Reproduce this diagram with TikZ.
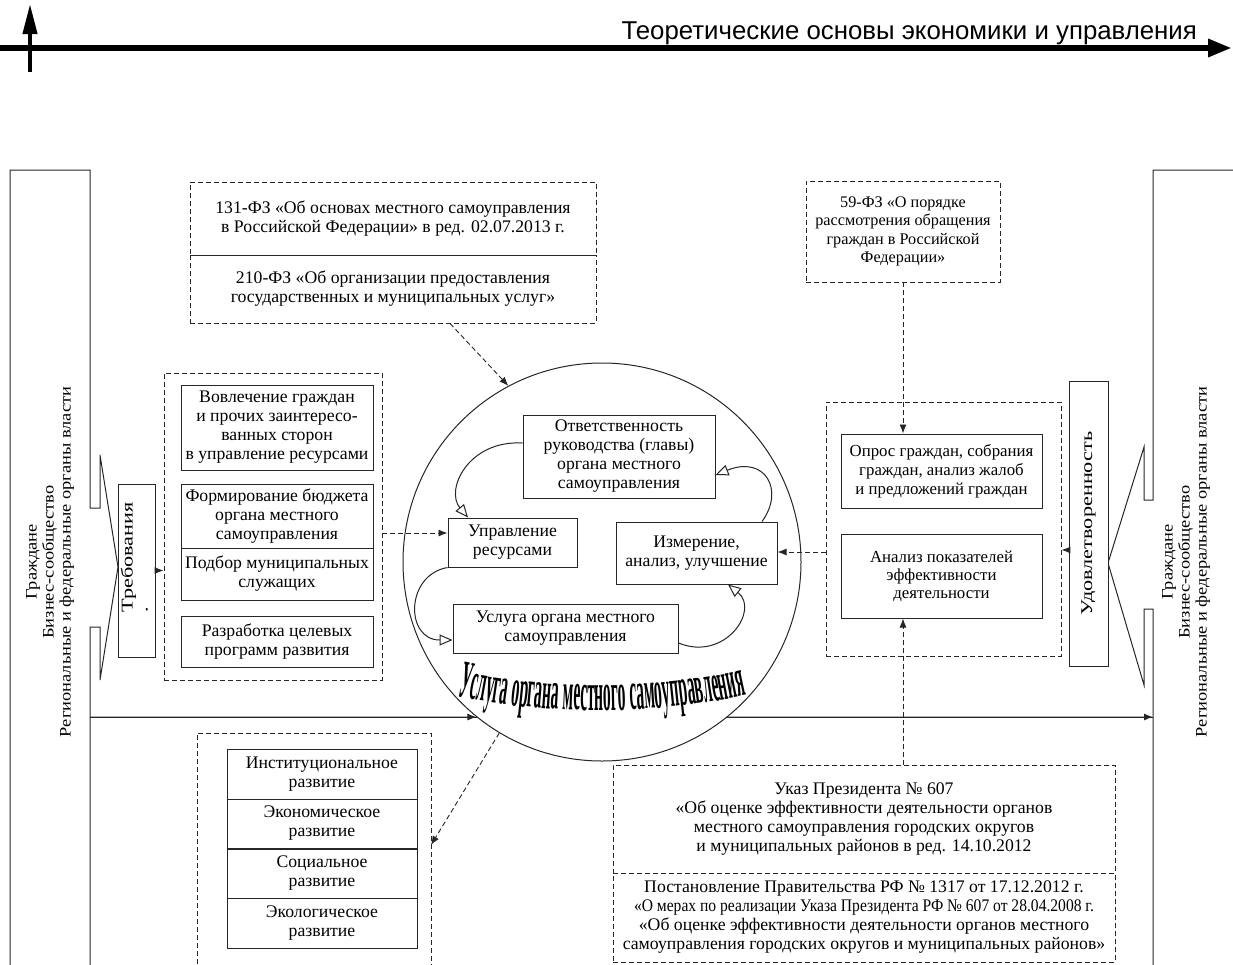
\documentclass[tikz,border=0pt]{standalone}
\usepackage{fontspec}
\usepackage{graphicx}
\setmainfont{Liberation Serif}
\newfontfamily\sidefont[FakeStretch=1.15]{Liberation Serif}
\newfontfamily\tagfont[FakeStretch=1.35]{Liberation Serif}
\newfontfamily\headfont{Liberation Sans}
\newfontfamily\arcfont[FakeStretch=0.29]{Liberation Serif}
\usetikzlibrary{arrows.meta,decorations.text}
\begin{document}
\begin{tikzpicture}[x=1pt,y=-1pt,
  every node/.style={font=\fontsize{17.7}{19}\selectfont, inner sep=0pt},
  box/.style={draw=black!85, line width=1pt, fill=white, align=center},
  dbox/.style={draw=black!85, line width=0.9pt, dash pattern=on 5pt off 3pt, align=center},
  dline/.style={draw=black!85, line width=0.9pt, dash pattern=on 5pt off 3pt},
  sline/.style={draw=black!85, line width=1pt},
  fa/.style={-{Latex[length=9pt,width=7pt]}},
  oa/.style={-{Triangle[length=13pt,width=11pt,fill=white]}},
  sidetxt/.style={rotate=90, align=center, font=\sidefont\fontsize{16}{17}\selectfont},
  smalltxt/.style={font=\fontsize{16.2}{18.5}\selectfont},
]
\useasboundingbox (0,0) rectangle (1233,964);
\clip (0,0) rectangle (1233,964);

% header
\draw[line width=6.5pt, -{Triangle[length=24pt,width=17pt]}] (0,48) -- (1232,48);
\draw[line width=4pt, -{Triangle[length=30pt,width=14pt]}] (30,72) -- (30,4);
\node[anchor=base east, font=\headfont\fontsize{25.8}{28}\selectfont] (hdr) at (1197,39) {Теоретические основы экономики и управления};

% left actor block
\draw[sline] (10,980) -- (10,170) -- (90,170) -- (90,508) -- (100,508) -- (100,455) -- (118,567) -- (100,680) -- (100,627) -- (90,627) -- (90,980);
\node[sidetxt] (ltxt) at (50,562) {Граждане\\Бизнес-сообщество\\Региональные и федеральные органы власти};
% right actor block
\draw[sline] (1240,170) -- (1153,170) -- (1153,500) -- (1144,500) -- (1144,447) -- (1108,563) -- (1144,685) -- (1144,609) -- (1153,609) -- (1153,980);
\node[sidetxt] (rtxt) at (1186,562) {Граждане\\Бизнес-сообщество\\Региональные и федеральные органы власти};

% requirement / satisfaction
\node[box, minimum width=37, minimum height=173] (treb) at (136.5,570.5)
  {\rotatebox{90}{\tagfont\fontsize{16.5}{15}\selectfont\begin{tabular}{@{}l@{}}\hspace*{26pt}Требования\\\hspace*{26pt}.\end{tabular}}};
\node[box, minimum width=39, minimum height=285] (udov) at (1088.5,523.5)
  {\rotatebox{90}{\tagfont\fontsize{16.5}{16}\selectfont Удовлетворенность}};

% left group
\node[dbox, minimum width=218, minimum height=307] (lgrp) at (273,526.5) {};
\node[box, minimum width=192, minimum height=85] (b1) at (277,427.5) {Вовлечение граждан\\и прочих заинтересо-\\ванных сторон\\в управление ресурсами};
\node[box, minimum width=192, minimum height=64] (b2) at (277,516) {Формирование бюджета\\органа местного\\самоуправления};
\node[box, minimum width=192, minimum height=52] (b3) at (277,574) {Подбор муниципальных\\служащих};
\node[box, minimum width=192, minimum height=51] (b4) at (277,641.5) {Разработка целевых\\программ развития};

% laws top-left
\node[dbox, minimum width=406, minimum height=73] (law1) at (393,218.5) {131-ФЗ «Об основах местного самоуправления\\в Российской Федерации» в ред. 02.07.2013 г.};
\node[dbox, minimum width=406, minimum height=68] (law2) at (393,289) {210-ФЗ «Об организации предоставления\\государственных и муниципальных услуг»};

% 59-FZ
\node[dbox, smalltxt, minimum width=194, minimum height=101] (fz59) at (903,231.5) {59-ФЗ «О порядке\\рассмотрения обращения\\граждан в Российской\\Федерации»};

% right group
\node[dbox, minimum width=235, minimum height=254] (rgrp) at (943.5,529) {};
\node[box, font=\fontsize{16.8}{19}\selectfont, minimum width=201, minimum height=74] (r1) at (941.5,471) {Опрос граждан, собрания\\граждан, анализ жалоб\\и предложений граждан};
\node[box, font=\fontsize{16.8}{18}\selectfont, minimum width=201, minimum height=84] (r2) at (941.5,576) {Анализ показателей\\эффективности\\деятельности};

% circle
\draw[sline] (90,717) coordinate (lact) -- (1153,717) coordinate (ract);
\node[circle, draw=black!85, line width=1pt, fill=white, minimum size=398] (circ) at (602,562) {};
\draw[sline,fa] (lact) -- (circ.231);
\draw[sline,fa] (circ.309) -- (ract);

\node[box, minimum width=192, minimum height=83] (otv) at (619,456.5) {Ответственность\\руководства (главы)\\органа местного\\самоуправления};
\node[box, minimum width=129, minimum height=49] (upr) at (512.5,542.5) {Управление\\ресурсами};
\node[box, minimum width=161, minimum height=62] (izm) at (696.5,553) {Измерение,\\анализ, улучшение};
\node[box, minimum width=225, minimum height=49] (usl) at (565.5,628.5) {Услуга органа местного\\самоуправления};

\draw[sline,oa] (otv.west |- 0,443) .. controls (468,440) and (445,490) .. (upr.north -| 468,0);
\draw[sline,oa] (upr.south west) .. controls (405,575) and (405,640) .. (usl.west |- 0,640);
\draw[sline,oa] (usl.east |- 0,643) .. controls (725,662) and (760,610) .. (izm.south -| 728,0);
\draw[sline,oa] (izm.north -| 762,0) .. controls (785,490) and (765,455) .. (otv.east |- 0,475);

\path[decorate, decoration={text along path, text align=center,
  text={|\arcfont\bfseries\fontsize{54}{54}\selectfont|Услуга органа местного самоуправления}}]
  (448,694) .. controls (540,716) and (660,716) .. (756,693);

% development group
\draw[dline] (197,980) -- (197,733) coordinate (dtl) -- (431,733) -- (431,980) coordinate (dbr);
\node[box, minimum width=190, minimum height=50] (dv1) at (322,774) {Институциональное\\развитие};
\node[box, minimum width=190, minimum height=49] (dv2) at (322,823.5) {Экономическое\\развитие};
\node[box, minimum width=190, minimum height=50] (dv3) at (322,873) {Социальное\\развитие};
\node[box, minimum width=190, minimum height=50] (dv4) at (322,923) {Экологическое\\развитие};
\draw[line width=2pt, black!85] (dv2.south west) -- (dv2.south east);

% decrees
\node[dbox, minimum width=502, minimum height=108] (uk1) at (864,819) {Указ Президента № 607\\«Об оценке эффективности деятельности органов\\местного самоуправления городских округов\\и муниципальных районов в ред. 14.10.2012};
\node[dbox, minimum width=502, minimum height=89] (uk2) at (864,917.5) {Постановление Правительства РФ № 1317 от 17.12.2012 г.\\\scalebox{0.88}[1]{«О мерах по реализации Указа Президента РФ № 607 от 28.04.2008 г.}\\«Об оценке эффективности деятельности органов местного\\самоуправления городских округов и муниципальных районов»};

% connectors
\draw[sline,fa] (treb.east) -- (treb.east -| lgrp.west);
\draw[dline,fa] (lgrp.east |- 0,533) -- (upr.west |- 0,533);
\draw[dline,fa] (law2.south -| 450,0) -- (circ.118);
\draw[dline,fa] (circ.239) -- (431,845);
\draw[dline,fa] (fz59.south) -- (fz59.south |- r1.north);
\draw[dline,fa] (uk1.north -| 903,0) -- (r2.south -| 903,0);
\draw[dline,fa] (rgrp.west |- 0,552) -- (izm.east |- 0,552);
\draw[sline,fa] (udov.west |- 0,550) -- (rgrp.east |- 0,550);
\end{tikzpicture}
\end{document}
